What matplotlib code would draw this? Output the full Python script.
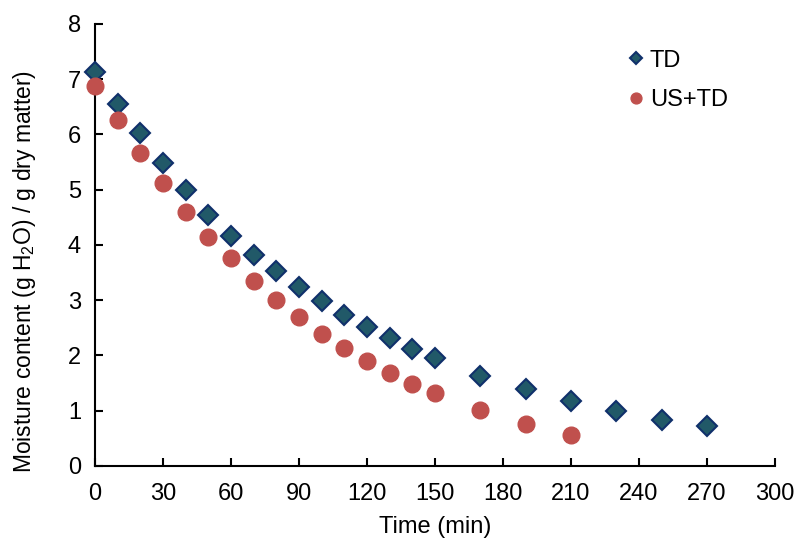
import matplotlib
matplotlib.use("Agg")
import matplotlib.pyplot as plt

time_td = [0, 10, 20, 30, 40, 50, 60, 70, 80, 90, 100, 110, 120, 130, 140, 150,
           170, 190, 210, 230, 250, 270]
moist_td = [7.13, 6.55, 6.03, 5.48, 5.00, 4.55, 4.17, 3.82, 3.52, 3.24, 2.99, 2.74,
            2.52, 2.31, 2.12, 1.95, 1.63, 1.39, 1.17, 0.99, 0.84, 0.73]
time_us = [0, 10, 20, 30, 40, 50, 60, 70, 80, 90, 100, 110, 120, 130, 140, 150,
           170, 190, 210]
moist_us = [6.88, 6.27, 5.67, 5.12, 4.60, 4.14, 3.76, 3.35, 3.00, 2.70, 2.39, 2.14,
            1.90, 1.68, 1.48, 1.32, 1.01, 0.76, 0.56]

plt.rcParams['font.family'] = ['Liberation Sans', 'DejaVu Sans']
plt.rcParams['mathtext.fontset'] = 'custom'
plt.rcParams['mathtext.rm'] = 'Liberation Sans'

fig = plt.figure(figsize=(8.01, 5.45), dpi=100)
ax = fig.add_axes([0.1186, 0.145, 0.849, 0.811])

ax.plot(time_td, moist_td, linestyle='none', marker='D', markersize=10,
        markerfacecolor='#215968', markeredgecolor='#10306b', markeredgewidth=1.5,
        label='TD', clip_on=False, zorder=3)
ax.plot(time_us, moist_us, linestyle='none', marker='o', markersize=12,
        markerfacecolor='#c0504d', markeredgecolor='#c0504d',
        label='US+TD', clip_on=False, zorder=3)

ax.set_xlim(0, 300)
ax.set_ylim(0, 8)
ax.set_xticks(range(0, 301, 30))
ax.set_yticks(range(0, 9))
ax.spines['top'].set_visible(False)
ax.spines['right'].set_visible(False)
ax.spines['left'].set_linewidth(1.5)
ax.spines['bottom'].set_linewidth(1.5)
ax.tick_params(direction='in', length=6, width=1.5, labelsize=17)
ax.tick_params(axis='x', pad=12)
ax.tick_params(axis='y', pad=10)

ax.set_xlabel('Time (min)', fontsize=17, labelpad=8)
ax.set_ylabel(r'Moisture content (g H$_\mathrm{2}$O) / g dry matter)', fontsize=16.5)
ax.yaxis.set_label_coords(-0.084, 0.44)

ax.legend(loc='upper right', bbox_to_anchor=(0.962, 0.99), frameon=False, fontsize=17,
          handletextpad=0.0, labelspacing=0.75, markerscale=0.65, handlelength=1.2)

fig.savefig('out.png', dpi=100)
